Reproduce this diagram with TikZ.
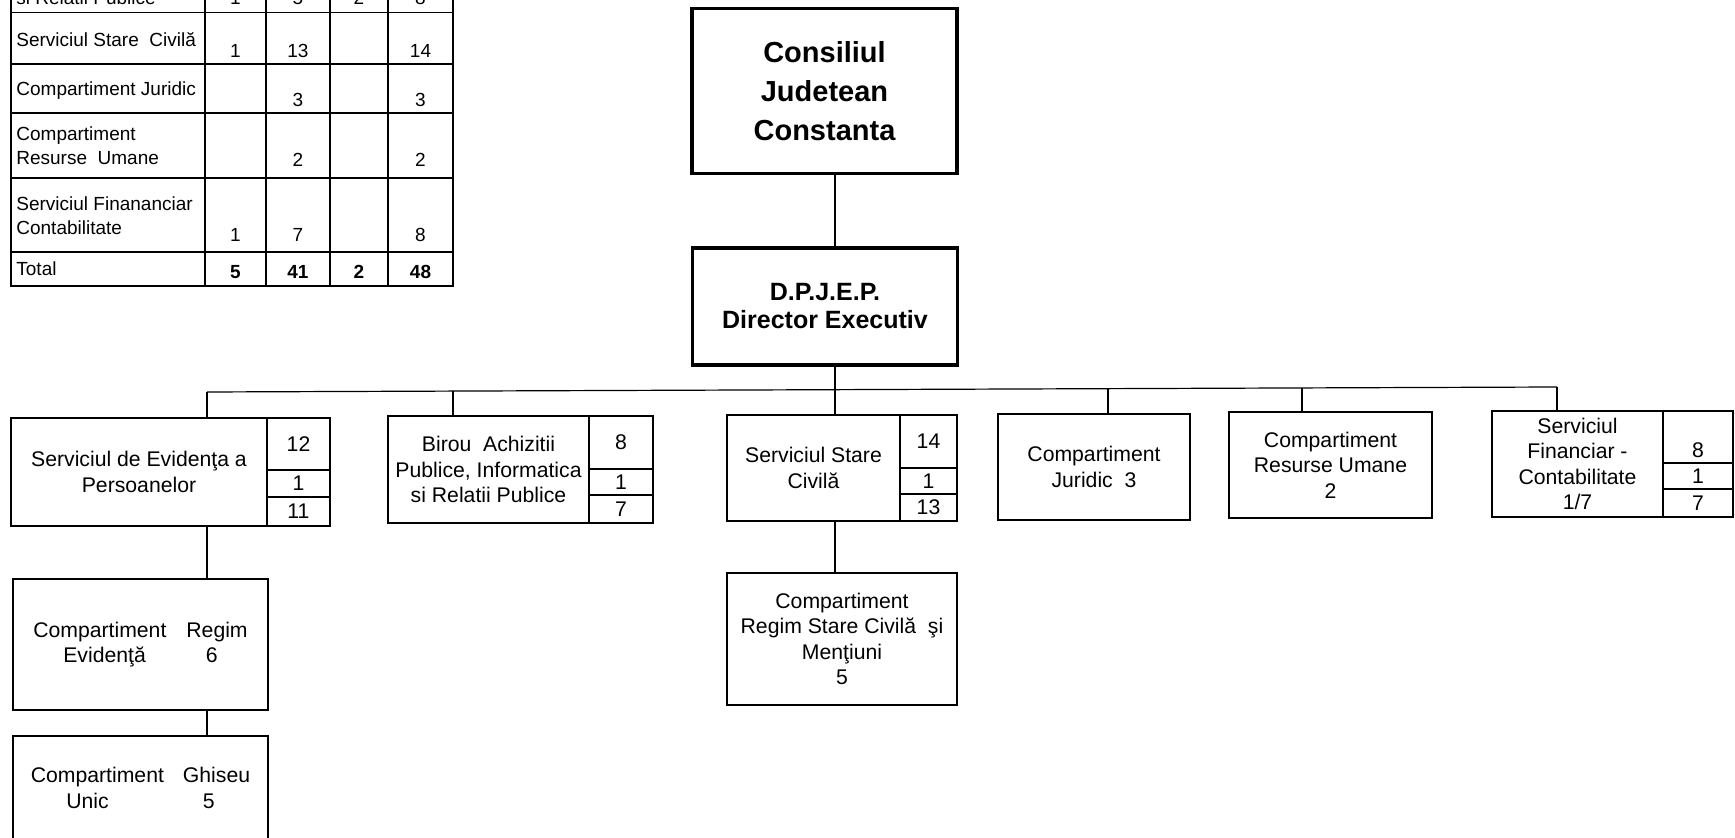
\documentclass[tikz,border=0pt]{standalone}
\usepackage{fontspec}
\setmainfont{Liberation Sans}
\newcommand\tabfont{\fontsize{9.5pt}{12pt}\selectfont}
\newcommand\boxfont{\fontsize{10.6pt}{12.8pt}\selectfont}

\begin{document}
\begin{tikzpicture}[x=0.5pt, y=-0.5pt,
    wh/.style 2 args={minimum width={#1*0.5pt}, minimum height={#2*0.5pt}},
    unit/.style={draw, line width=0.85pt, inner sep=1pt, outer sep=0pt, font=\boxfont, align=center},
    head/.style={draw, line width=1.7pt, inner sep=1pt, outer sep=0pt, align=center},
    numcell/.style={draw, line width=0.85pt, inner sep=0pt, outer sep=0pt, font=\boxfont, anchor=north west},
    lbl/.style={inner sep=0pt, anchor=base west, font=\tabfont, align=left},
    num/.style={inner sep=0pt, anchor=base, font=\tabfont},
    link/.style={line width=0.6pt}]
  \useasboundingbox (0,0) rectangle (1735,838);
  \clip (0,0) rectangle (1735,838);

  % staff table, its upper rows are cut off
  \foreach \x in {205,266,330,388}
    \draw[line width=0.7pt] (\x,-10) -- (\x,286);
  \foreach \y in {12.5,64,113,178}
    \draw[line width=0.7pt] (11,\y) -- (453,\y);
  \draw[line width=1.2pt] (11,252) -- (453,252);
  \draw[line width=1pt] (11,-10) -- (11,286) -- (453,286) -- (453,-10);
  % labels: base is the baseline of the last line
  \foreach \txt/\y [count=\k] in {{si Relatii Publice}/4.5, {Serviciul Stare~ Civilă}/47,
      {Compartiment Juridic}/96, {Compartiment\\Resurse~ Umane}/165,
      {Serviciul Finananciar\\Contabilitate}/234.5, Total/276}
    \node[lbl] (lbl\k) at (16,\y) {\txt};
  \foreach \v/\cx/\y [count=\k] in {1/235.5/4.5, 5/298/4.5, 2/359/4.5, 8/420.5/4.5,
      1/235.5/58, 13/298/58, 14/420.5/58, 3/298/107, 3/420.5/107,
      2/298/167, 2/420.5/167, 1/235.5/242, 7/298/242, 8/420.5/242}
    \node[num] (num\k) at (\cx,\y) {\v};
  \foreach \v/\cx [count=\k] in {5/235.5, 41/298, 2/359, 48/420.5}
    \node[num, font=\tabfont\bfseries] (tot\k) at (\cx,279) {\v};

  % top of the chart
  \node[head, wh={265}{165}, font=\fontsize{14.5pt}{19.4pt}\selectfont\bfseries] (cjc) at (824.5,91)
    {Consiliul\\Judetean\\Constanta};
  \node[head, wh={265}{117}, font=\fontsize{12.5pt}{14pt}\selectfont\bfseries] (dpjep) at (825,306.5)
    {D.P.J.E.P.\\Director Executiv};

  % bus points
  \coordinate (b1) at (207,392);
  \coordinate (b2) at (453,391);
  \coordinate (b3) at (835,389.5);
  \coordinate (b4) at (1108,388.7);
  \coordinate (b5) at (1302,388);
  \coordinate (b6) at (1557,387);

  % services
  \node[unit, wh={256}{108}] (ev) at (139,472) {Serviciul de Evidenţa a\\Persoanelor};
  \node[numcell, wh={63}{52}] (ev1) at (ev.north east) {12};
  \node[numcell, wh={63}{27}] (ev2) at (ev1.south west) {1};
  \node[numcell, wh={63}{29}] (ev3) at (ev2.south west) {11};

  \node[unit, wh={201}{107}] (bir) at (488.5,469.5) {Birou~ Achizitii\\Publice, Informatica\\si Relatii Publice};
  \node[numcell, wh={64}{53}] (bir1) at (bir.north east) {8};
  \node[numcell, wh={64}{26}] (bir2) at (bir1.south west) {1};
  \node[numcell, wh={64}{28}] (bir3) at (bir2.south west) {7};

  \node[unit, wh={173}{106}] (ssc) at (813.5,468) {Serviciul Stare\\Civilă};
  \node[numcell, wh={57}{53}] (ssc1) at (ssc.north east) {14};
  \node[numcell, wh={57}{26}] (ssc2) at (ssc1.south west) {1};
  \node[numcell, wh={57}{27}] (ssc3) at (ssc2.south west) {13};

  \node[unit, wh={192}{106}] (jur) at (1094,467) {Compartiment\\Juridic~ 3};
  \node[unit, wh={203}{106}] (ru) at (1330.5,465) {Compartiment\\Resurse Umane\\2};

  \node[unit, wh={171}{106}] (fin) at (1577.5,464) {Serviciul\\Financiar -\\Contabilitate\\1/7};
  \node[numcell, wh={70}{52}, text height=20.6pt, text depth=0pt] (fin1) at (fin.north east) {8};
  \node[numcell, wh={70}{26}] (fin2) at (fin1.south west) {1};
  \node[numcell, wh={70}{28}] (fin3) at (fin2.south west) {7};

  % compartments below
  \node[unit, wh={255}{131}] (regev) at (140.5,644.5) {Compartiment\hspace{10pt}Regim\\Evidenţă\hspace{30pt}6};
  \node[unit, wh={255}{104}] (ghis) at (140.5,788) {Compartiment\hspace{9.5pt}Ghiseu\\Unic\hspace{47pt}5};
  \node[unit, wh={230}{132}] (regsc) at (842,639) {Compartiment\\Regim Stare Civilă~ şi\\Menţiuni\\5};

  % connectors
  \draw[link] (cjc.south -| b3) -- (dpjep.north -| b3);
  \draw[link] (dpjep.south -| b3) -- (b3);
  \draw[link] (b1) -- (b6);
  \foreach \b/\n in {b1/ev, b2/bir, b3/ssc, b4/jur, b5/ru, b6/fin}
    \draw[link] (\b) -- (\b |- \n.north);
  \draw[link] (ev.south -| b1) -- (regev.north -| b1);
  \draw[link] (regev.south -| b1) -- (ghis.north -| b1);
  \draw[link] (ssc.south -| b3) -- (regsc.north -| b3);
\end{tikzpicture}
\end{document}
